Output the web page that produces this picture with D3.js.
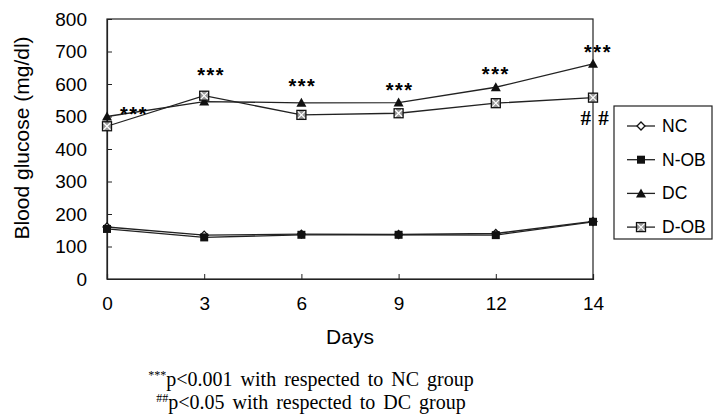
<!DOCTYPE html>
<html>
<head>
<meta charset="utf-8">
<script src="https://cdn.jsdelivr.net/npm/d3@7"></script>
<style>
  body { margin: 0; background: #fff; }
  text { font-family: "Liberation Sans", Arial, sans-serif; fill: #000; }
  .note { font-family: "Liberation Serif", "Times New Roman", serif; }
</style>
</head>
<body>
<div id="chart"></div>
<script>
var svgWidth = 713;
var svgHeight = 420;

var margin = {
  top: 19,
  right: 120,
  bottom: 141,
  left: 107
};

var width = svgWidth - margin.left - margin.right;
var height = svgHeight - margin.top - margin.bottom;

// data
var days = ["0", "3", "6", "9", "12", "14"];
var yTicks = [0, 100, 200, 300, 400, 500, 600, 700, 800];
var nc = [160, 135, 138, 137, 140, 177];
var nob = [154, 128, 136, 136, 135, 176];
var dc = [500, 546, 542, 543, 590, 662];
var dob = [470, 564, 505, 510, 541, 558];
var seriesNames = ["NC", "N-OB", "DC", "D-OB"];
// level (mg/dl) where each "***" mark sits
var starLevel = [519, 640, 606, 594, 643, 712];
var footnotes = [
  { sup: "***", text: "p<0.001 with respected to NC group" },
  { sup: "##", text: "p<0.05 with respected to DC group" }
];

var series = [
  { name: seriesNames[0], values: nc, shape: "diamond" },
  { name: seriesNames[1], values: nob, shape: "square" },
  { name: seriesNames[2], values: dc, shape: "triangle" },
  { name: seriesNames[3], values: dob, shape: "xsquare" }
];

var svg = d3
  .select("#chart")
  .append("svg")
  .attr("width", svgWidth)
  .attr("height", svgHeight);

var chartGroup = svg.append("g")
  .attr("transform", `translate(${margin.left}, ${margin.top})`);

var xScale = d3.scalePoint()
  .domain(days)
  .range([0, width]);

var yScale = d3.scaleLinear()
  .domain([0, 800])
  .range([height, 0]);

// frame round the plot
chartGroup.append("rect")
  .attr("width", width)
  .attr("height", height)
  .attr("fill", "none")
  .attr("stroke", "#222")
  .attr("stroke-width", 1.2);

// axes, ticks pointing inward
var bottomAxis = d3.axisBottom(xScale).tickSize(-5).tickPadding(18);
var leftAxis = d3.axisLeft(yScale).tickValues(yTicks).tickSize(-5).tickPadding(20);

var xAxis = chartGroup.append("g")
  .attr("transform", `translate(0, ${height})`)
  .call(bottomAxis);

var yAxis = chartGroup.append("g")
  .call(leftAxis);

[xAxis, yAxis].forEach(function(ax) {
  ax.select(".domain").attr("stroke", "#222").attr("stroke-width", 1.2);
  ax.selectAll(".tick line").attr("stroke", "#222");
  ax.selectAll("text")
    .attr("font-size", 19)
    .attr("font-family", "Liberation Sans, Arial, sans-serif")
    .attr("fill", "#000");
});

// axis titles
chartGroup.append("text")
  .attr("x", width / 2)
  .attr("y", height + 65)
  .attr("text-anchor", "middle")
  .attr("font-size", 21)
  .text("Days");

chartGroup.append("text")
  .attr("transform", "rotate(-90)")
  .attr("x", -119)
  .attr("y", -78)
  .attr("text-anchor", "middle")
  .attr("font-size", 21)
  .text("Blood glucose (mg/dl)");

// marker drawing
function drawMarker(g, shape) {
  if (shape === "diamond") {
    g.append("path")
      .attr("d", "M0,-4L4,0L0,4L-4,0Z")
      .attr("fill", "#fff")
      .attr("stroke", "#111")
      .attr("stroke-width", 1.3);
  }
  else if (shape === "square") {
    g.append("rect")
      .attr("x", -4).attr("y", -4)
      .attr("width", 8).attr("height", 8)
      .attr("fill", "#111");
  }
  else if (shape === "triangle") {
    g.append("path")
      .attr("d", "M0,-5L5,4L-5,4Z")
      .attr("fill", "#111");
  }
  else {
    g.append("rect")
      .attr("x", -4.5).attr("y", -4.5)
      .attr("width", 9).attr("height", 9)
      .attr("fill", "#999")
      .attr("stroke", "#111")
      .attr("stroke-width", 1.3);
    g.append("path")
      .attr("d", "M-3.5,-3.5L3.5,3.5M3.5,-3.5L-3.5,3.5")
      .attr("stroke", "#fff")
      .attr("stroke-width", 1.2);
  }
}

var line = d3.line()
  .x((d, i) => xScale(days[i]))
  .y(d => yScale(d));

series.forEach(function(s) {
  chartGroup.append("path")
    .datum(s.values)
    .attr("d", line)
    .attr("fill", "none")
    .attr("stroke", "#222")
    .attr("stroke-width", 1.3);

  s.values.forEach(function(v, i) {
    var m = chartGroup.append("g")
      .attr("transform", `translate(${xScale(days[i])}, ${yScale(v)})`);
    drawMarker(m, s.shape);
  });
});

// significance marks
var starShift = [27, 7, 1, 1, 0, 5];
chartGroup.selectAll(".star")
  .data(starLevel)
  .enter()
  .append("text")
  .attr("class", "star")
  .attr("x", (d, i) => xScale(days[i]) + starShift[i])
  .attr("y", d => yScale(d) + 11)
  .attr("text-anchor", "middle")
  .attr("font-size", 20)
  .attr("font-weight", "bold")
  .attr("letter-spacing", 1.5)
  .text("***");

chartGroup.append("text")
  .attr("class", "note")
  .attr("x", xScale("14") + 2)
  .attr("y", yScale(dob[5]) + 27)
  .attr("text-anchor", "middle")
  .attr("font-size", 21)
  .attr("font-weight", "bold")
  .attr("letter-spacing", 1)
  .text("# #");

// legend
var legend = svg.append("g")
  .attr("transform", "translate(614, 106)");

legend.append("rect")
  .attr("width", 98)
  .attr("height", 133)
  .attr("fill", "#fff")
  .attr("stroke", "#222")
  .attr("stroke-width", 1.2);

series.forEach(function(s, i) {
  var row = legend.append("g")
    .attr("transform", `translate(0, ${20 + i * 33.7})`);
  row.append("line")
    .attr("x1", 13).attr("x2", 41)
    .attr("stroke", "#222")
    .attr("stroke-width", 1.3);
  var m = row.append("g").attr("transform", "translate(27, 0)");
  drawMarker(m, s.shape);
  row.append("text")
    .attr("x", 48)
    .attr("y", 6)
    .attr("font-size", 17.5)
    .text(s.name);
});

// footnotes
footnotes.forEach(function(f, i) {
  var t = svg.append("text")
    .attr("class", "note")
    .attr("x", 311)
    .attr("y", 386 + i * 23)
    .attr("text-anchor", "middle")
    .attr("font-size", 20)
    .attr("word-spacing", 3);
  t.append("tspan")
    .attr("font-size", 12)
    .attr("dy", -7)
    .text(f.sup);
  t.append("tspan")
    .attr("dy", 7)
    .text(f.text);
});
</script>
</body>
</html>
